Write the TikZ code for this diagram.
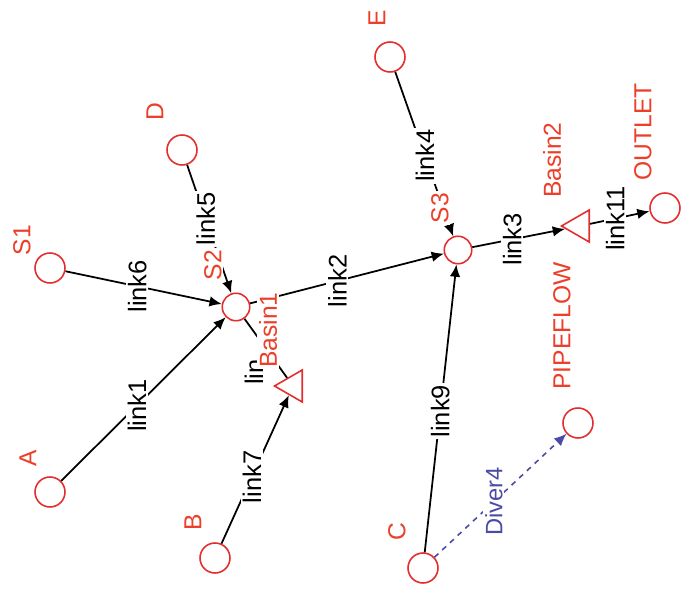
\documentclass[tikz,border=0pt]{standalone}
\usepackage{fontspec}
\setmainfont{Liberation Sans}
\usetikzlibrary{shapes.geometric,arrows.meta}
\definecolor{nodered}{RGB}{228,45,45}
\definecolor{lblred}{RGB}{236,62,40}
\definecolor{divblue}{RGB}{75,75,165}
\begin{document}
\begin{tikzpicture}[x=0.02cm,y=-0.02cm,
  outnode/.style={circle,draw=nodered,line width=0.9pt,minimum size=0.6cm,inner sep=0pt},
  jnode/.style={circle,draw=nodered,line width=0.9pt,minimum size=0.55cm,inner sep=0pt},
  basin/.style={regular polygon,regular polygon sides=3,shape border rotate=90,
    draw=nodered,line width=0.9pt,minimum size=0.74cm,inner sep=0pt},
  conn/.style={draw=black,line width=1pt,-{Latex[length=7pt,width=6pt]}},
  plainconn/.style={draw=black,line width=1pt},
  divconn/.style={draw=divblue,line width=0.9pt,dashed,-{Latex[length=7pt,width=6pt]}},
  linklbl/.style={fill=white,inner sep=1pt,rotate=90,font=\fontsize{14.5}{15}\selectfont},
  namelbl/.style={fill=white,text=lblred,inner sep=1pt,rotate=90,font=\fontsize{14}{15}\selectfont},
  divlbl/.style={fill=white,text=divblue,inner sep=1pt,rotate=90,font=\fontsize{13.5}{14}\selectfont}]
\useasboundingbox (0,0) rectangle (683,597);

% outfall / inflow nodes
\node[outnode] (A)   at (50,492)  {};
\node[outnode] (S1)  at (50,268)  {};
\node[outnode] (D)   at (182,150) {};
\node[outnode] (E)   at (390,57)  {};
\node[outnode] (B)   at (215,558) {};
\node[outnode] (C)   at (423,568) {};
\node[outnode] (PF)  at (578,423) {};
\node[outnode] (OUT) at (665,208) {};
% junctions
\node[jnode] (S2) at (236,307) {};
\node[jnode] (S3) at (458,250) {};
% storage basins
\node[basin] (Ba1) at (293,386) {};
\node[basin] (Ba2) at (580,226) {};

% conduits
\draw[conn] (S1) -- node[linklbl,pos=0.46] {link6} (S2);
\draw[conn] (A)  -- node[linklbl,pos=0.46] {link1} (S2);
\draw[conn] (D)  -- node[linklbl,pos=0.42] {link5} (S2);
\draw[conn] (B)  -- node[linklbl,pos=0.45] {link7} (Ba1);
\draw[plainconn] (Ba1) -- (S2);
\draw[conn] (S2) -- node[linklbl,pos=0.45] {link2} (S3);
\draw[conn] (E)  -- node[linklbl,pos=0.51] {link4} (S3);
\draw[conn] (C)  -- node[linklbl,pos=0.49] {link9} (S3);
\draw[conn] (S3) -- node[linklbl,pos=0.43] {link3} (Ba2);
\draw[conn] (Ba2) -- node[linklbl,pos=0.42] {link11} (OUT);
\draw[divconn] (C) -- node[divlbl,pos=0.45] {Diver4} (PF);
\node[linklbl] (l8) at (254,372) {lin};

% node names
\node[namelbl] (tA)   at (28,458)  {A};
\node[namelbl] (tS1)  at (22,240)  {S1};
\node[namelbl] (tD)   at (155,112) {D};
\node[namelbl] (tE)   at (377,18)  {E};
\node[namelbl] (tB)   at (193,522) {B};
\node[namelbl] (tC)   at (397,532) {C};
\node[namelbl] (tS2)  at (213,265) {S2};
\node[namelbl] (tBa1) at (268,330) {Basin1};
\node[namelbl] (tS3)  at (440,208) {S3};
\node[namelbl] (tBa2) at (552,160) {Basin2};
\node[namelbl] (tOUT) at (643,132) {OUTLET};
\node[namelbl] (tPF)  at (562,326) {PIPEFLOW};
\end{tikzpicture}
\end{document}
